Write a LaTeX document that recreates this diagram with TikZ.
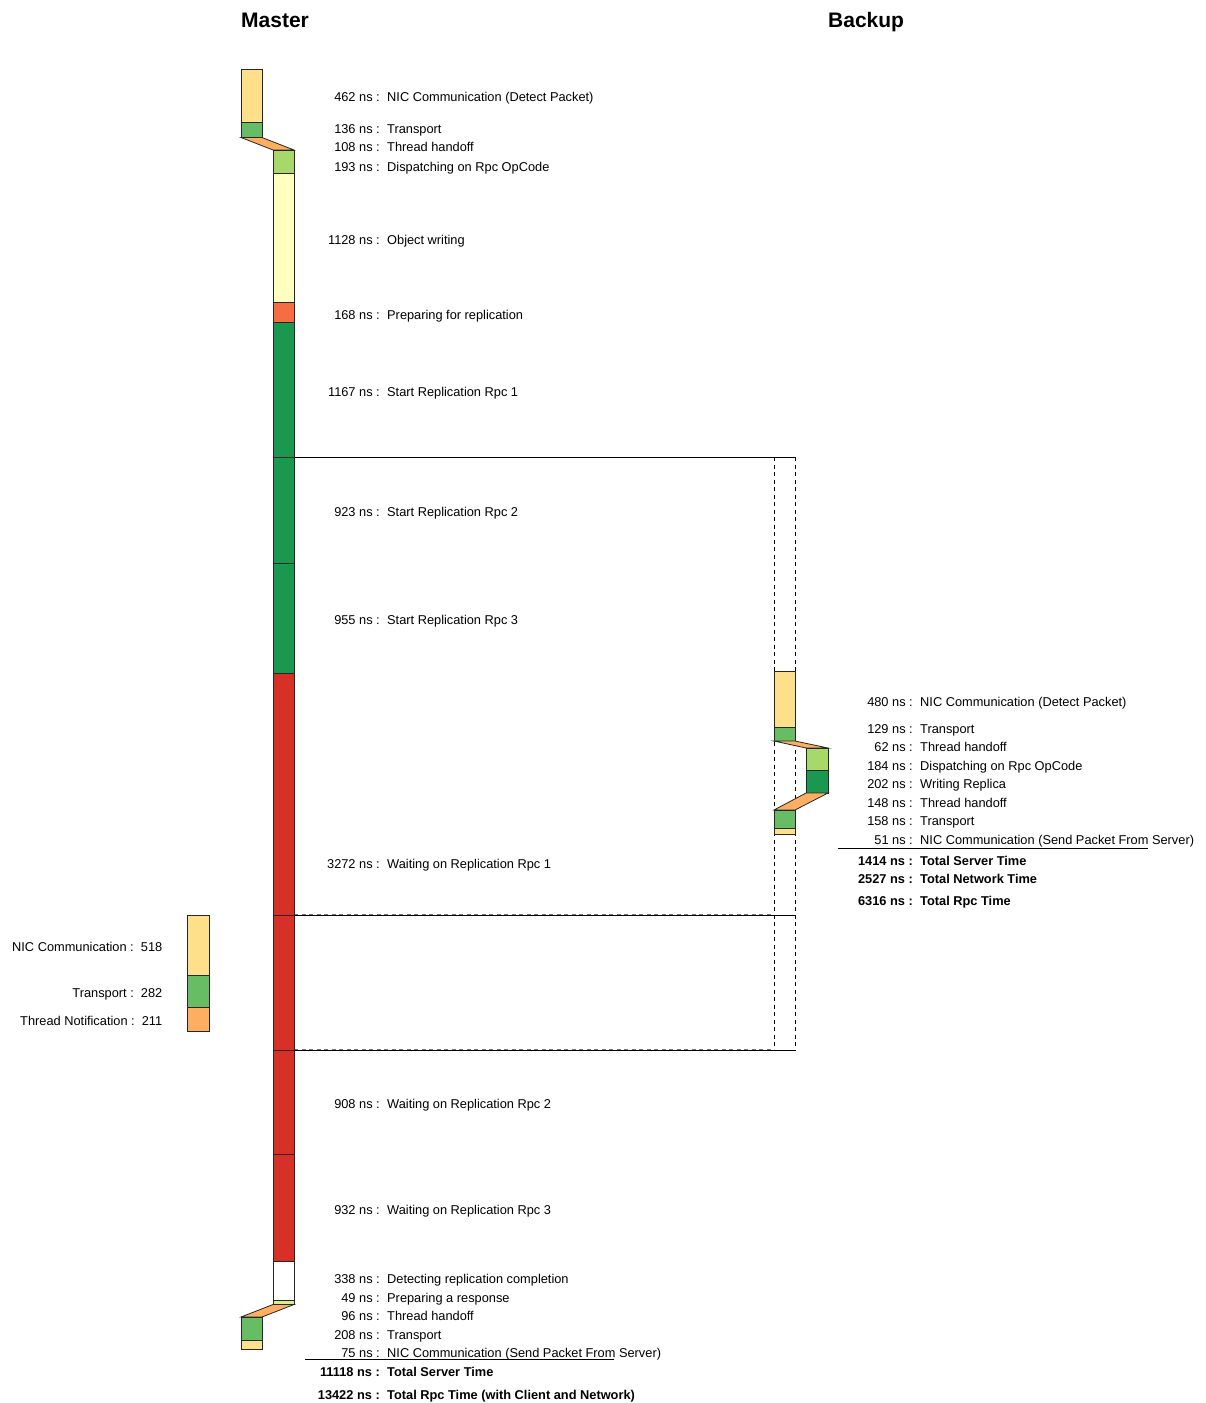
\documentclass[tikz,border=0pt]{standalone}
\usepackage{fontspec}
\setmainfont{Liberation Sans}
% RdYlGn palette for the phases
\definecolor{nic}{HTML}{FEE08B}
\definecolor{transport}{HTML}{66BD63}
\definecolor{handoff}{HTML}{FDAE61}
\definecolor{dispatch}{HTML}{A6D96A}
\definecolor{objwrite}{HTML}{FFFFBF}
\definecolor{prep}{HTML}{F46D43}
\definecolor{rpcstart}{HTML}{1A9850}
\definecolor{rpcwait}{HTML}{D73027}
\definecolor{response}{HTML}{D9EF8B}
\tikzset{
  phase/.style={draw=black!85, line width=0.8pt},
  txt/.style={font=\fontsize{12.8}{15}\selectfont, inner sep=0pt},
  boldtxt/.style={font=\fontsize{12.8}{15}\selectfont\bfseries, inner sep=0pt},
  title/.style={font=\fontsize{21}{24}\selectfont\bfseries, inner sep=0pt, anchor=base west},
  msg/.style={line width=0.8pt},
  waitline/.style={line width=0.8pt, dash pattern=on 4pt off 3.5pt},
}
% a timed block of one phase: x1, y1, x2, y2, colour
\newcommand\tblock[5]{\filldraw[phase, fill=#5] (#1,#2) rectangle (#3,#4);}
% a slanted hand-off band between two columns
\newcommand\tband[6]{\filldraw[phase, fill=handoff] (#1,#2) -- (#3,#2) -- (#5,#6) -- (#4,#6) -- cycle;}
% a timing row: name, colon x, centre y, value, label, style
\newcommand\trow[6]{%
  \node[#6, anchor=base east] (#1v) at (#2,#3+4.5) {#4 ns :};
  \node[#6, anchor=base west] (#1t) at (#2+7,#3+4.5) {#5};}
\begin{document}
\begin{tikzpicture}[x=1pt, y=-1pt]
\useasboundingbox (0,0) rectangle (1206,1403);

\node[title] (master) at (241,27.5) {Master};
\node[title] (backup) at (828,27.5) {Backup};

% messages between the master and the backup
\draw[waitline] (774,457) -- (774,1050);
\draw[waitline] (795,457) -- (795,1050);
\draw[waitline, black!55] (294,914.2) -- (774,914.2);
\draw[waitline, black!55] (294,1049.2) -- (774,1049.2);
\coordinate (send) at (795,457);
\coordinate (ack1) at (795,915.2);
\coordinate (ack2) at (795,1050.4);
\draw[msg] (273,457) -- (send);
\draw[msg] (273,915.2) -- (ack1);
\draw[msg] (273,1050.4) -- (ack2);

% master timeline
\tblock{241}{69}{262}{122}{nic}
\tblock{241}{122}{262}{137.5}{transport}
\tband{241}{137.5}{262}{273}{294}{150}
\tblock{273}{150}{294}{173}{dispatch}
\tblock{273}{173}{294}{302}{objwrite}
\tblock{273}{302}{294}{322}{prep}
\tblock{273}{322}{294}{457}{rpcstart}
\tblock{273}{457}{294}{563}{rpcstart}
\tblock{273}{563}{294}{673}{rpcstart}
\tblock{273}{673}{294}{915.2}{rpcwait}
\tblock{273}{915.2}{294}{1050.4}{rpcwait}
\tblock{273}{1050.4}{294}{1154}{rpcwait}
\tblock{273}{1154}{294}{1261}{rpcwait}
\tblock{273}{1261}{294}{1300}{white}
\tblock{273}{1300}{294}{1304.5}{response}
\tband{273}{1304.5}{294}{241}{262}{1317}
\tblock{241}{1317}{262}{1340}{transport}
\tblock{241}{1340}{262}{1349}{nic}

% backup timeline
\tblock{774}{671}{795}{727}{nic}
\tblock{774}{727}{795}{741}{transport}
\tband{774}{741}{795}{806}{828}{748}
\tblock{806}{748}{828}{770}{dispatch}
\tblock{806}{770}{828}{793}{rpcstart}
\tband{806}{793}{828}{774}{795}{810}
\tblock{774}{810}{795}{828}{transport}
\tblock{774}{828}{795}{834}{nic}

% master timings
\trow{m1}{380}{96.5}{462}{NIC Communication (Detect Packet)}{txt}
\trow{m2}{380}{128.5}{136}{Transport}{txt}
\trow{m3}{380}{147}{108}{Thread handoff}{txt}
\trow{m4}{380}{166.5}{193}{Dispatching on Rpc OpCode}{txt}
\trow{m5}{380}{239.5}{1128}{Object writing}{txt}
\trow{m6}{380}{314.5}{168}{Preparing for replication}{txt}
\trow{m7}{380}{391.5}{1167}{Start Replication Rpc 1}{txt}
\trow{m8}{380}{511.5}{923}{Start Replication Rpc 2}{txt}
\trow{m9}{380}{619.5}{955}{Start Replication Rpc 3}{txt}
\trow{m10}{380}{863.5}{3272}{Waiting on Replication Rpc 1}{txt}
\trow{m11}{380}{1103.5}{908}{Waiting on Replication Rpc 2}{txt}
\trow{m12}{380}{1209.5}{932}{Waiting on Replication Rpc 3}{txt}
\trow{m13}{380}{1278.5}{338}{Detecting replication completion}{txt}
\trow{m14}{380}{1297.5}{49}{Preparing a response}{txt}
\trow{m15}{380}{1315.5}{96}{Thread handoff}{txt}
\trow{m16}{380}{1334.5}{208}{Transport}{txt}
\trow{m17}{380}{1352.5}{75}{NIC Communication (Send Packet From Server)}{txt}
\coordinate (msumL) at (305,1359.5);
\coordinate (msumR) at (614,1359.5);
\draw[line width=0.8pt] (msumL) -- (msumR);
\trow{m18}{380}{1371.5}{11118}{Total Server Time}{boldtxt}
\trow{m19}{380}{1394.5}{13422}{Total Rpc Time (with Client and Network)}{boldtxt}

% backup timings
\trow{b1}{913}{701.5}{480}{NIC Communication (Detect Packet)}{txt}
\trow{b2}{913}{728.5}{129}{Transport}{txt}
\trow{b3}{913}{746.5}{62}{Thread handoff}{txt}
\trow{b4}{913}{765.5}{184}{Dispatching on Rpc OpCode}{txt}
\trow{b5}{913}{784}{202}{Writing Replica}{txt}
\trow{b6}{913}{802.5}{148}{Thread handoff}{txt}
\trow{b7}{913}{821}{158}{Transport}{txt}
\trow{b8}{913}{839.5}{51}{NIC Communication (Send Packet From Server)}{txt}
\coordinate (bsumL) at (838,848);
\coordinate (bsumR) at (1148,848);
\draw[line width=0.8pt] (bsumL) -- (bsumR);
\trow{b9}{913}{860.5}{1414}{Total Server Time}{boldtxt}
\trow{b10}{913}{878.5}{2527}{Total Network Time}{boldtxt}
\trow{b11}{913}{900.5}{6316}{Total Rpc Time}{boldtxt}

% network legend
\tblock{187.5}{915}{209}{975}{nic}
\tblock{187.5}{975}{209}{1007}{transport}
\tblock{187.5}{1007}{209}{1031.5}{handoff}
\node[txt, anchor=base east] (lg1) at (162.5,951.5) {NIC Communication :\ \ 518};
\node[txt, anchor=base east] (lg2) at (162.5,997.5) {Transport :\ \ 282};
\node[txt, anchor=base east] (lg3) at (162.5,1025.5) {Thread Notification :\ \ 211};
\end{tikzpicture}
\end{document}
